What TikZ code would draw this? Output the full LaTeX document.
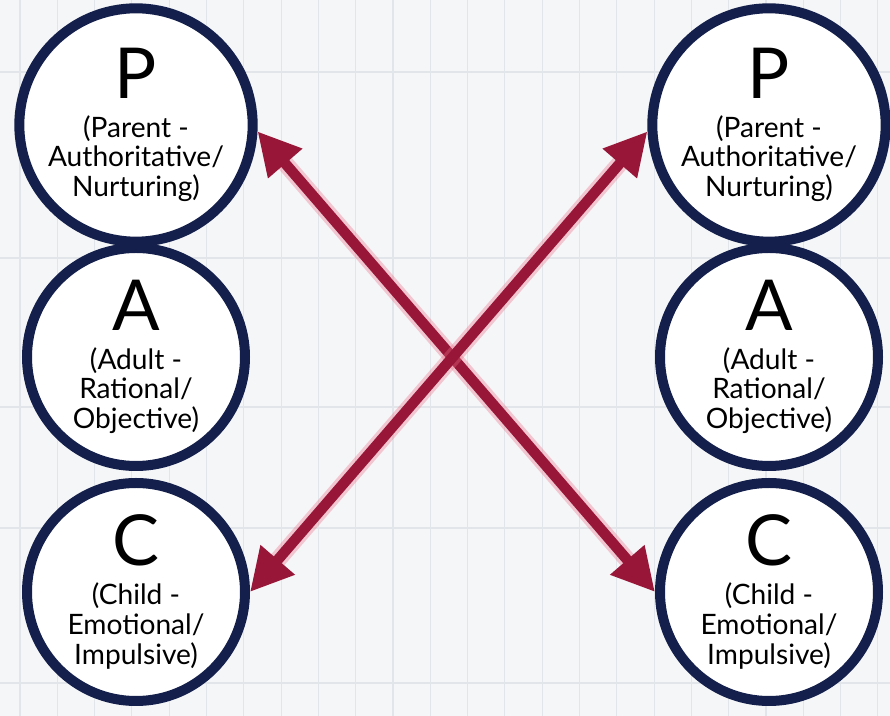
\documentclass[tikz,border=0pt]{standalone}
\usepackage{fontspec}
\setmainfont{Lato}
\usetikzlibrary{arrows.meta}
\definecolor{navy}{RGB}{20,32,75}
\definecolor{crimson}{RGB}{152,22,56}
\definecolor{glowpink}{RGB}{235,110,135}
\definecolor{paper}{RGB}{245,246,248}
\definecolor{gridgrey}{RGB}{226,229,233}
\begin{document}
\begin{tikzpicture}[
  ego/.style={circle, draw=navy, fill=white, line width=0.2cm, minimum size=4.36cm,
    inner sep=0pt, align=center, font=\fontsize{16}{17}\selectfont},
  trans/.style={<->, crimson, line width=0.21cm, >={Triangle[length=0.85cm,width=0.85cm]},
    preaction={draw=glowpink, -, line width=0.34cm, opacity=0.35, shorten <=0.6cm, shorten >=0.6cm}}]
\useasboundingbox (0,0) rectangle (17.8,14.32);
\fill[paper] (0,0) rectangle (17.8,14.32);
%
\foreach \x in {0,...,23}
  \draw[gridgrey, line width=0.6pt] (0.4+0.746*\x,0) -- (0.4+0.746*\x,14.32);
\foreach \y in {12.88,9.16,6.18,3.76,0.66}
  \draw[gridgrey, line width=0.6pt] (0,\y) -- (17.8,\y);
%
\node[ego] (pleft) at (2.72,11.82) {{\fontsize{40}{40}\selectfont P}\\[5pt](Parent -\\Authoritative/\\Nurturing)};
\node[ego] (aleft) at (2.72,7.18) {{\fontsize{40}{40}\selectfont A}\\[5pt](Adult -\\Rational/\\Objective)};
\node[ego] (cleft) at (2.72,2.48) {{\fontsize{40}{40}\selectfont C}\\[5pt](Child -\\Emotional/\\Impulsive)};
%
\node[ego] (pright) at (15.38,11.82) {{\fontsize{40}{40}\selectfont P}\\[5pt](Parent -\\Authoritative/\\Nurturing)};
\node[ego] (aright) at (15.38,7.18) {{\fontsize{40}{40}\selectfont A}\\[5pt](Adult -\\Rational/\\Objective)};
\node[ego] (cright) at (15.38,2.48) {{\fontsize{40}{40}\selectfont C}\\[5pt](Child -\\Emotional/\\Impulsive)};
%
\draw[trans] (pleft.-3) -- (cright.west);
\draw[trans] (cleft.east) -- (pright.183);
\end{tikzpicture}
\end{document}
